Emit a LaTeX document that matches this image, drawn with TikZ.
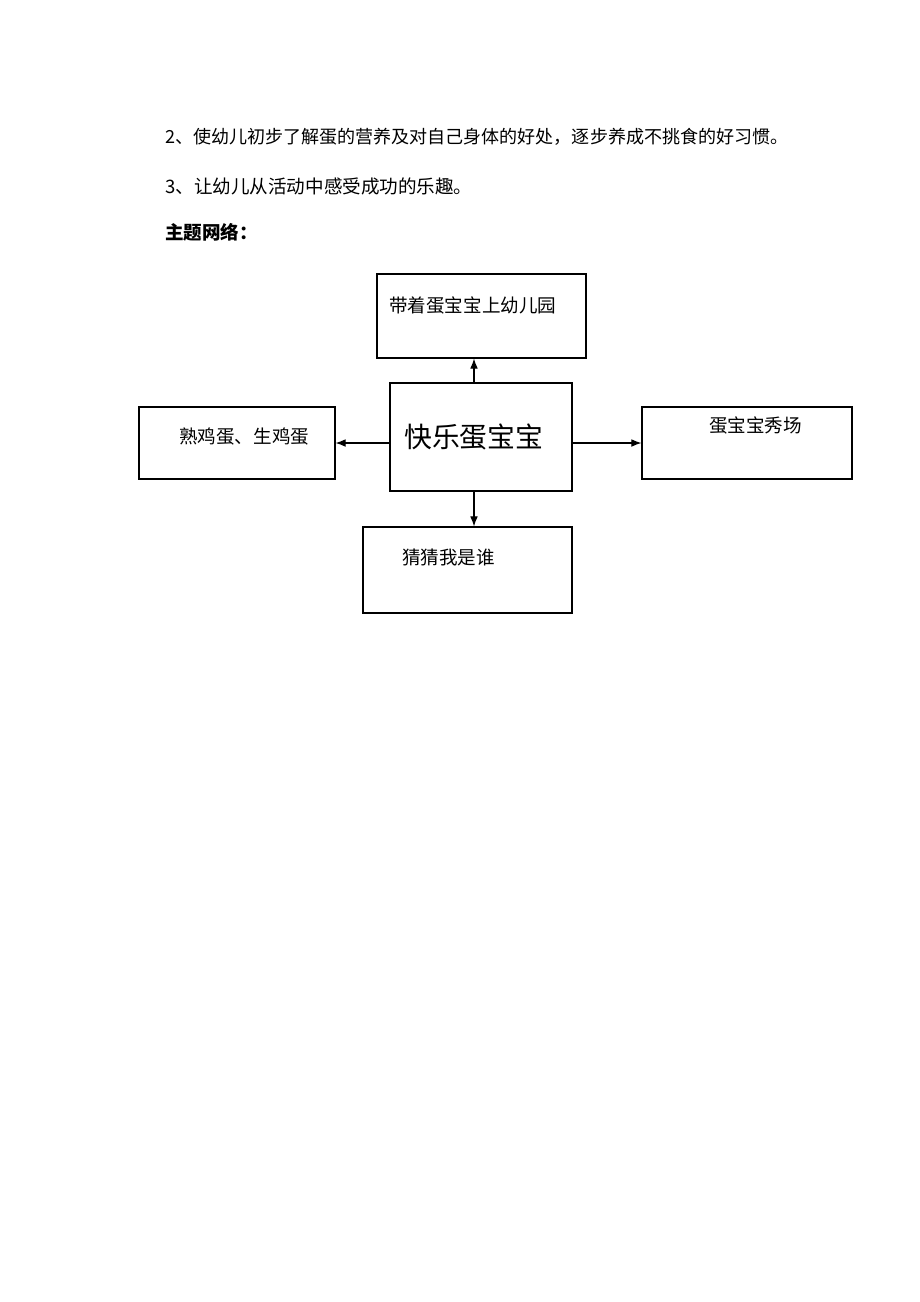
\documentclass[tikz,border=0pt]{standalone}
\usepackage{fontspec}
\newfontfamily\cjk{Noto Sans CJK SC}
\usetikzlibrary{positioning,fit,arrows.meta}

\begin{document}
\begin{tikzpicture}[y=-0.6467pt,x=0.6467pt,
	box/.style={draw,line width=0.7pt,inner sep=0pt},
	txt/.style={font=\cjk\fontsize{12}{14}\selectfont,inner sep=0pt,anchor=west},
	arr/.style={-{Latex[length=6.5pt,width=5pt]},line width=0.7pt}]
	\useasboundingbox (0,0) rectangle (920,1302);

	% text above the net
	\node[txt,font=\cjk\fontsize{11.66}{14}\selectfont] (aim2) at (165,137) {2、使幼儿初步了解蛋的营养及对自己身体的好处，逐步养成不挑食的好习惯。};
	\node[txt] (aim3) at (165,186) {3、让幼儿从活动中感受成功的乐趣。};
	\node[txt,font=\cjk\bfseries\fontsize{12}{14}\selectfont] (net) at (165,232) {主题网络：};

	% boxes
	\node[box,fit={(377,274) (586,358)}] (park) {};
	\node[box,fit={(390,383) (572,491)}] (hub) {};
	\node[box,fit={(139,407) (335,479)}] (cooked) {};
	\node[box,fit={(642,407) (852,479)}] (show) {};
	\node[box,fit={(363,527) (572,613)}] (guess) {};

	\node[txt] (parktxt) at (389,305) {带着蛋宝宝上幼儿园};
	\node[txt,font=\cjk\fontsize{18}{20}\selectfont] (hubtxt) at (404,437) {快乐蛋宝宝};
	\node[txt] (cookedtxt) at (179,437) {熟鸡蛋、生鸡蛋};
	\node[txt] (showtxt) at (709,425) {蛋宝宝秀场};
	\node[txt] (guesstxt) at (402,557) {猜猜我是谁};

	% arrows
	\draw[arr] (hub.north -| 474,0) -- (park.south -| 474,0);
	\draw[arr] (hub.south -| 474,0) -- (guess.north -| 474,0);
	\draw[arr] (hub.west |- cooked.east) -- (cooked.east);
	\draw[arr] (hub.east |- show.west) -- (show.west);
\end{tikzpicture}
\end{document}
